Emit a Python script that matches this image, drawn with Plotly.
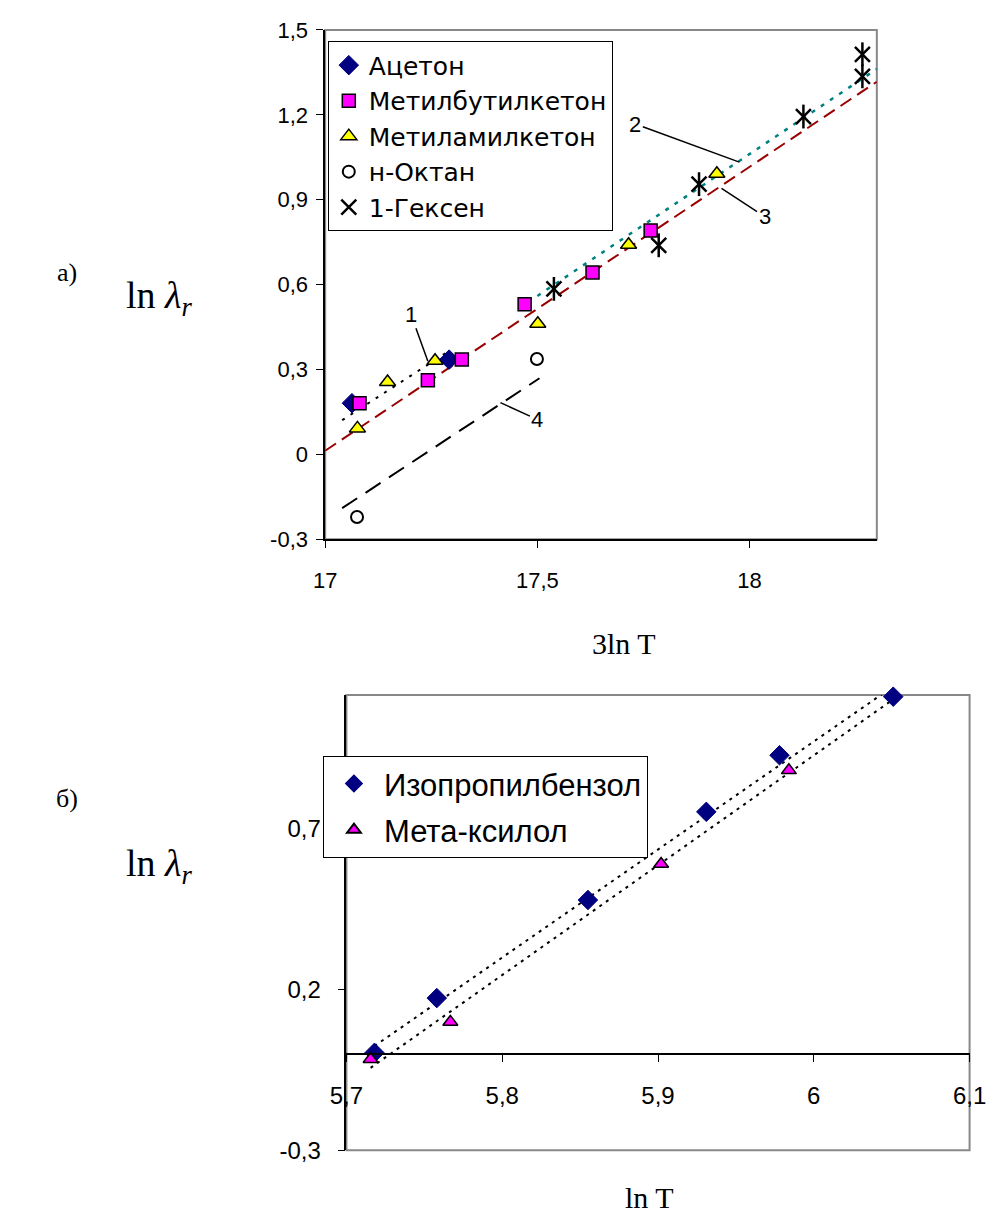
import numpy as np
import plotly.graph_objects as go

# ---------------- Top chart (а) data ----------------
acetone_x = [17.063, 17.292]
acetone_y = [0.181, 0.335]
mbk_x = [17.081, 17.242, 17.322, 17.470, 17.630, 17.767]
mbk_y = [0.181, 0.262, 0.335, 0.531, 0.643, 0.791]
mak_x = [17.076, 17.147, 17.259, 17.501, 17.715, 17.923]
mak_y = [0.092, 0.256, 0.331, 0.462, 0.741, 0.992]
octane_x = [17.075, 17.499]
octane_y = [-0.221, 0.337]
hexene_x = [17.539, 17.786, 17.881, 18.127, 18.266, 18.266]
hexene_y = [0.585, 0.739, 0.955, 1.194, 1.336, 1.414]

# trend lines
trend1_x = [17.04, 17.284]
trend1_y = [0.121, 0.358]
trend2_x = [17.50, 18.30]
trend2_y = [0.560, 1.362]
trend3_x = [17.00, 18.30]
trend3_y = [0.013, 1.317]
trend4_x = [17.04, 17.505]
trend4_y = [-0.190, 0.269]

top_names = ["Ацетон", "Метилбутилкетон", "Метиламилкетон", "н-Октан", "1-Гексен"]
top_xticks = [17, 17.5, 18]
top_xticktext = ["17", "17,5", "18"]
top_yticks = [-0.3, 0, 0.3, 0.6, 0.9, 1.2, 1.5]
top_yticktext = ["-0,3", "0", "0,3", "0,6", "0,9", "1,2", "1,5"]

# ---------------- Bottom chart (б) data ----------------
ipb_x = [5.718, 5.758, 5.855, 5.931, 5.978, 6.051]
ipb_y = [0.003, 0.173, 0.478, 0.752, 0.928, 1.110]
mx_x = [5.7155, 5.7667, 5.902, 5.984]
mx_y = [-0.017, 0.099, 0.590, 0.881]
bottom_names = ["Изопропилбензол", "Мета-ксилол"]
bottom_trend_end = 6.05
bot_xticks = [5.7, 5.8, 5.9, 6.0, 6.1]
bot_xticktext = ["5,7", "5,8", "5,9", "6", "6,1"]
bot_yticks = [-0.3, 0.2, 0.7]
bot_yticktext = ["-0,3", "0,2", "0,7"]

W, H = 1003, 1225
SANS = "Liberation Sans, Arial, sans-serif"
WIDE = "DejaVu Sans, Liberation Sans, sans-serif"
SERIF = "Liberation Serif, Times New Roman, serif"

def px_x(p):
    return p / W

def px_y(p):
    return 1 - p / H

top_xdom = [px_x(319), px_x(890)]
top_ydom = [px_y(538.3), px_y(18.3)]
top_xrange = [17, 18.3]
top_yrange = [-0.3, 1.5]

bot_xdom = [px_x(341), px_x(986)]
bot_ydom = [px_y(1162), px_y(697.3)]
bot_xrange = [5.7, 6.1]
bot_yrange = [-0.3, 1.115]

fig = go.Figure()

# --- top trend lines ---
fig.add_trace(go.Scatter(x=trend3_x, y=trend3_y, mode="lines", showlegend=False,
                         line=dict(color="#990000", width=2, dash="13px,7px"),
                         xaxis="x", yaxis="y", hoverinfo="skip"))
fig.add_trace(go.Scatter(x=trend2_x, y=trend2_y, mode="lines", showlegend=False,
                         line=dict(color="#008080", width=2.5, dash="4px,7px"),
                         xaxis="x", yaxis="y", hoverinfo="skip"))
fig.add_trace(go.Scatter(x=trend1_x, y=trend1_y, mode="lines", showlegend=False,
                         line=dict(color="black", width=2, dash="3px,7px"),
                         xaxis="x", yaxis="y", hoverinfo="skip"))
fig.add_trace(go.Scatter(x=trend4_x, y=trend4_y, mode="lines", showlegend=False,
                         line=dict(color="black", width=2, dash="18px,10px"),
                         xaxis="x", yaxis="y", hoverinfo="skip"))

# --- top markers ---
fig.add_trace(go.Scatter(x=acetone_x, y=acetone_y, mode="markers", name=top_names[0],
                         marker=dict(symbol="diamond", size=15, color="#000080",
                                     line=dict(color="#000080", width=1)),
                         xaxis="x", yaxis="y", legend="legend", cliponaxis=False))
fig.add_trace(go.Scatter(x=mbk_x, y=mbk_y, mode="markers", name=top_names[1],
                         marker=dict(symbol="square", size=13, color="#FF00FF",
                                     line=dict(color="black", width=1.5)),
                         xaxis="x", yaxis="y", legend="legend", cliponaxis=False))
fig.add_trace(go.Scatter(x=mak_x, y=mak_y, mode="markers", name=top_names[2],
                         marker=dict(symbol="triangle-up", size=14, color="#FFFF00",
                                     line=dict(color="black", width=1.5)),
                         xaxis="x", yaxis="y", legend="legend", cliponaxis=False))
fig.add_trace(go.Scatter(x=octane_x, y=octane_y, mode="markers", name=top_names[3],
                         marker=dict(symbol="circle-open", size=12, color="black",
                                     line=dict(color="black", width=2)),
                         xaxis="x", yaxis="y", legend="legend", cliponaxis=False))
fig.add_trace(go.Scatter(x=hexene_x, y=hexene_y, mode="markers", name=top_names[4],
                         marker=dict(symbol="x-thin-open", size=15, color="black",
                                     line=dict(color="black", width=2.5)),
                         xaxis="x", yaxis="y", legend="legend", cliponaxis=False))
fig.add_trace(go.Scatter(x=hexene_x, y=hexene_y, mode="markers", showlegend=False,
                         marker=dict(symbol="line-ns-open", size=17, color="black",
                                     line=dict(color="black", width=2.5)),
                         xaxis="x", yaxis="y", cliponaxis=False, hoverinfo="skip"))

# --- bottom trend lines (linear fits) ---
for sx, sy in [(ipb_x, ipb_y), (mx_x, mx_y)]:
    k, b = np.polyfit(sx, sy, 1)
    tx = np.array([min(sx), bottom_trend_end])
    fig.add_trace(go.Scatter(x=tx, y=k * tx + b, mode="lines", showlegend=False,
                             line=dict(color="black", width=2, dash="3px,5px"),
                             xaxis="x2", yaxis="y2", hoverinfo="skip"))

fig.add_trace(go.Scatter(x=ipb_x, y=ipb_y, mode="markers", name=bottom_names[0],
                         marker=dict(symbol="diamond", size=15, color="#000080",
                                     line=dict(color="#000080", width=1)),
                         xaxis="x2", yaxis="y2", legend="legend2", legendgroup="a",
                         cliponaxis=False))
fig.add_trace(go.Scatter(x=mx_x, y=mx_y, mode="markers", name=bottom_names[1],
                         marker=dict(symbol="triangle-up", size=13, color="#FF00FF",
                                     line=dict(color="black", width=1.5)),
                         xaxis="x2", yaxis="y2", legend="legend2", legendgroup="b",
                         cliponaxis=False))

tickfont = dict(family=SANS, size=22, color="black")
tickfont2 = dict(family=SANS, size=24, color="black")

# zero position of bottom x axis
zero_pos = bot_ydom[0] + (0 - bot_yrange[0]) / (bot_yrange[1] - bot_yrange[0]) * (bot_ydom[1] - bot_ydom[0])

fig.update_layout(
    width=W, height=H,
    margin=dict(l=0, r=0, t=0, b=0),
    paper_bgcolor="white", plot_bgcolor="white",
    xaxis=dict(domain=top_xdom, range=top_xrange, anchor="y",
               tickvals=top_xticks, ticktext=top_xticktext, tickfont=tickfont,
               showgrid=False, zeroline=False, showline=True, linecolor="black", linewidth=1.5,
               ticks="outside", ticklen=7, tickcolor="black", ticklabelstandoff=14),
    yaxis=dict(domain=top_ydom, range=top_yrange, anchor="x",
               tickvals=top_yticks, ticktext=top_yticktext, tickfont=tickfont,
               showgrid=False, zeroline=False, showline=True, linecolor="black", linewidth=1.5,
               ticks="outside", ticklen=7, tickcolor="black", ticklabelstandoff=4),
    xaxis2=dict(domain=bot_xdom, range=bot_xrange, anchor="free", position=zero_pos,
                tickvals=bot_xticks, ticktext=bot_xticktext, tickfont=tickfont2,
                showgrid=False, zeroline=False, showline=True, linecolor="black", linewidth=1.5,
                ticks="outside", ticklen=7, tickcolor="black", ticklabelstandoff=14),
    yaxis2=dict(domain=bot_ydom, range=bot_yrange, anchor="x2",
                tickvals=bot_yticks, ticktext=bot_yticktext, tickfont=tickfont2,
                showgrid=False, zeroline=False, showline=True, linecolor="black", linewidth=1.5,
                ticks="outside", ticklen=7, tickcolor="black", ticklabelstandoff=12),
    legend=dict(x=px_x(321.7), y=px_y(30), xanchor="left", yanchor="top",
                bgcolor="white", bordercolor="black", borderwidth=1,
                font=dict(family=WIDE, size=25, color="black"),
                itemwidth=30, tracegroupgap=0, entrywidth=300),
    legend2=dict(x=px_x(316.7), y=px_y(759.3), xanchor="left", yanchor="top",
                 bgcolor="white", bordercolor="black", borderwidth=1,
                 font=dict(family=SANS, size=31, color="black"),
                 itemwidth=50, tracegroupgap=3, itemsizing="constant", entrywidth=340),
    showlegend=True,
)

# plot frames (gray top/right borders)
fig.add_shape(type="rect", xref="x domain", yref="y domain", x0=0, x1=1, y0=0, y1=1,
              line=dict(color="#888888", width=2), layer="below")
fig.add_shape(type="rect", xref="x2 domain", yref="y2 domain", x0=0, x1=1, y0=0, y1=1,
              line=dict(color="#888888", width=2), layer="below")

# curve labels with leader lines
lab_font = dict(family=SANS, size=22, color="black")
for text, x, y, ax, ay in [("1", 17.242, 0.329, -17, -47),
                           ("2", 17.976, 1.033, -104, -38),
                           ("3", 17.934, 0.940, 43, 28),
                           ("4", 17.413, 0.183, 37, 17)]:
    fig.add_annotation(x=x, y=y, xref="x", yref="y", text=text, showarrow=True,
                       arrowhead=0, arrowwidth=1.5, arrowcolor="black", ax=ax, ay=ay,
                       standoff=0, font=lab_font)

serif_big = dict(family=SERIF, size=38, color="black")
serif_mid = dict(family=SERIF, size=26, color="black")
serif_title = dict(family=SERIF, size=30, color="black")
paper_labels = [
    ("а)", 52, 266, serif_mid),
    ("ln <i>λ</i><sub><i>r</i></sub>", 148, 292, serif_big),
    ("3ln T", 628, 645, serif_title),
    ("б)", 52, 803, serif_mid),
    ("ln <i>λ</i><sub><i>r</i></sub>", 148, 872, serif_big),
    ("ln T", 655, 1210, serif_title),
]
for text, xp, yp, f in paper_labels:
    fig.add_annotation(x=px_x(xp), y=px_y(yp), xref="paper", yref="paper", text=text,
                       showarrow=False, font=f, xanchor="center", yanchor="middle")

fig.write_html("out.html")
